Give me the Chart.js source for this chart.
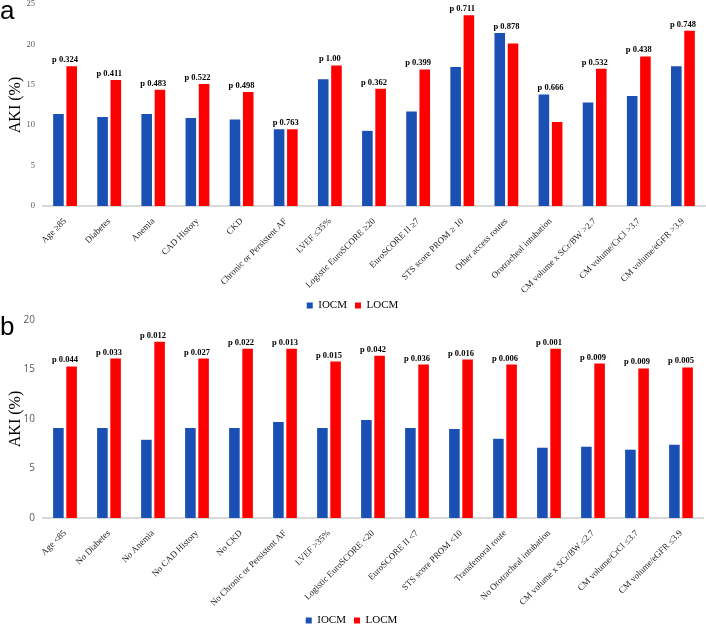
<!DOCTYPE html>
<html lang="en">
<head>
    <meta charset="UTF-8">
    <title>AKI by contrast medium</title>
    <script src="https://cdn.jsdelivr.net/npm/chart.js"></script>
    <style>
        body { margin: 0; background: #fff; width: 706px; height: 625px; position: relative; overflow: hidden; }
        .panel { position: absolute; left: 0; }
        .tag { position: absolute; left: 0; font: 26px "Liberation Sans", Arial, sans-serif; color: #000; line-height: 26px; }
    </style>
</head>
<body>
    <div class="panel" style="top:0"><canvas id="chartA" width="706" height="321"></canvas></div>
    <div class="panel" style="top:310px"><canvas id="chartB" width="706" height="326"></canvas></div>
    <div class="tag" style="top:-3px">a</div>
    <div class="tag" style="top:313px">b</div>

    <script>
        // panel a - risk factor present
        const categoriesA = ['Age ≥85', 'Diabetes', 'Anemia', 'CAD History', 'CKD', 'Chronic or Persistent AF',
            'LVEF ≤35%', 'Logistic EuroSCORE ≥20', 'EuroSCORE II ≥7', 'STS score PROM ≥ 10', 'Other access routes',
            'Orotracheal intubation', 'CM volume x SCr/BW >2.7', 'CM volume/CrCl >3.7', 'CM volume/eGFR >3.9'];
        const iocmA = [11.4, 11.0, 11.4, 10.9, 10.7, 9.5, 15.7, 9.3, 11.7, 17.2, 21.4, 13.8, 12.8, 13.6, 17.3];
        const locmA = [17.3, 15.6, 14.4, 15.1, 14.1, 9.5, 17.4, 14.5, 16.9, 23.6, 20.1, 10.4, 17.0, 18.5, 21.7];
        const pA = ['0.324', '0.411', '0.483', '0.522', '0.498', '0.763', '1.00', '0.362', '0.399', '0.711',
            '0.878', '0.666', '0.532', '0.438', '0.748'];

        // panel b - risk factor absent
        const categoriesB = ['Age <85', 'No Diabetes', 'No Anemia', 'No CAD History', 'No CKD', 'No Chronic or Persistent AF',
            'LVEF >35%', 'Logistic EuroSCORE <20', 'EuroSCORE II <7', 'STS score PROM <10', 'Transfemoral route',
            'No Orotracheal intubation', 'CM volume x SCr/BW ≤2.7', 'CM volume/CrCl ≤3.7', 'CM volume/eGFR ≤3.9'];
        const iocmB = [9.1, 9.1, 7.9, 9.1, 9.1, 9.7, 9.1, 9.9, 9.1, 9.0, 8.0, 7.1, 7.2, 6.9, 7.4];
        const locmB = [15.3, 16.1, 17.8, 16.1, 17.1, 17.1, 15.8, 16.4, 15.5, 16.0, 15.5, 17.1, 15.6, 15.1, 15.2];
        const pB = ['0.044', '0.033', '0.012', '0.027', '0.022', '0.013', '0.015', '0.042', '0.036', '0.016',
            '0.006', '0.001', '0.009', '0.009', '0.005'];

        const BLUE = '#1a4fb4';
        const RED = '#ff0000';
        const SERIF = '"Liberation Serif", "Times New Roman", serif';

        // writes "p x.xxx" over each pair of bars
        const pLabels = {
            id: 'pLabels',
            afterDatasetsDraw(chart, args, opts) {
                const ctx = chart.ctx;
                const a = chart.getDatasetMeta(0).data;
                const b = chart.getDatasetMeta(1).data;
                ctx.save();
                ctx.font = 'bold 8.5px ' + SERIF;
                ctx.fillStyle = '#000';
                ctx.textAlign = 'center';
                ctx.textBaseline = 'bottom';
                opts.values.forEach((p, i) => {
                    const x = (a[i].x + b[i].x) / 2;
                    const top = Math.min(a[i].y, b[i].y);
                    ctx.fillText('p ' + p, x, top - 2);
                });
                ctx.restore();
            }
        };

        function makeChart(id, labels, iocm, locm, pvals, cfg) {
            new Chart(document.getElementById(id), {
                type: 'bar',
                data: {
                    labels,
                    datasets: [
                        { label: 'IOCM', data: iocm, backgroundColor: BLUE },
                        { label: 'LOCM', data: locm, backgroundColor: RED },
                    ],
                },
                options: {
                    responsive: false,
                    animation: false,
                    categoryPercentage: 0.6,
                    barPercentage: 0.8,
                    layout: { padding: { top: 0, right: cfg.right, bottom: 0, left: 0 } },
                    plugins: {
                        tooltip: { enabled: false },
                        pLabels: { values: pvals },
                        legend: {
                            position: 'bottom',
                            labels: {
                                boxWidth: 6,
                                boxHeight: 6,
                                padding: 8,
                                color: '#000',
                                font: { family: SERIF, size: 11 },
                            },
                        },
                    },
                    scales: {
                        x: {
                            grid: { display: false },
                            border: { display: true, color: '#d9d9d9', width: 2 },
                            ticks: {
                                autoSkip: false,
                                minRotation: 45,
                                maxRotation: 45,
                                padding: 2,
                                color: '#222',
                                font: { family: SERIF, size: 9 },
                            },
                            afterFit(scale) { scale.height = cfg.xHeight; },
                        },
                        y: {
                            min: 0,
                            max: cfg.max,
                            grid: { display: false, drawTicks: false },
                            border: { display: false },
                            ticks: {
                                stepSize: 5,
                                padding: 8,
                                color: '#595959',
                                font: cfg.tickFont,
                            },
                            title: {
                                display: true,
                                text: 'AKI (%)',
                                color: '#000',
                                padding: { top: 6, bottom: 0 },
                                font: { family: SERIF, size: 16 },
                            },
                            afterFit(scale) {
                                scale.width = 43;
                                scale.paddingTop = cfg.top;
                            },
                        },
                    },
                },
                plugins: [pLabels],
            });
        }

        makeChart('chartA', categoriesA, iocmA, locmA, pA, {
            max: 25,
            xHeight: 86,
            top: 4,
            right: 1,
            tickFont: { family: SERIF, size: 8.5 },
        });
        makeChart('chartB', categoriesB, iocmB, locmB, pB, {
            max: 20,
            xHeight: 89,
            top: 10,
            right: 3,
            tickFont: { family: '"Open Sans", "Liberation Sans", sans-serif', size: 10 },
        });
    </script>
</body>
</html>
